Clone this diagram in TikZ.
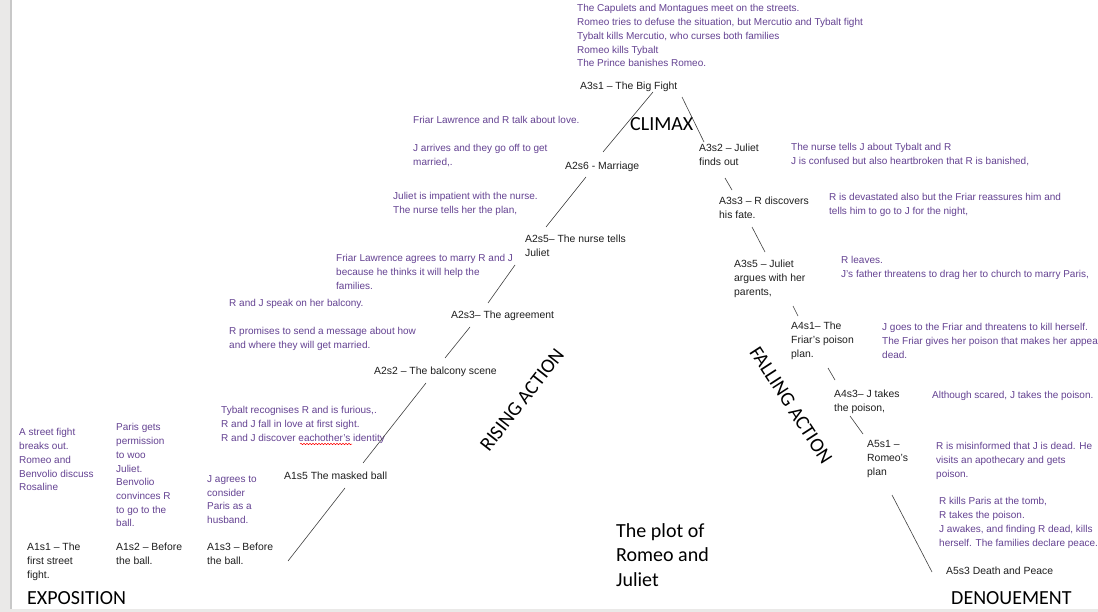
\documentclass[tikz,border=0pt]{standalone}
\usepackage{fontspec}
\usetikzlibrary{decorations.pathmorphing}
\setmainfont{Liberation Sans}
\newfontfamily\calfont{Carlito}
\definecolor{purp}{RGB}{100,66,146}
\definecolor{ink}{RGB}{30,30,30}
\definecolor{strip}{RGB}{234,233,232}
\definecolor{stripline}{RGB}{200,200,200}
\begin{document}
\begin{tikzpicture}[x=1pt,y=-1pt,
  note/.style={anchor=north west,inner sep=0pt,align=left,text=purp,font=\fontsize{10}{13.7}\selectfont},
  scene/.style={anchor=north west,inner sep=0pt,align=left,text=ink,font=\fontsize{10.4}{13.9}\selectfont},
  big/.style={inner sep=0pt,text=black,font=\calfont\fontsize{20}{24.5}\selectfont},
  link/.style={draw=ink!85,line width=0.6pt}]
\useasboundingbox (0,0) rectangle (1098,612);
\fill[white] (0,0) rectangle (1098,612);
\fill[strip] (0,0) rectangle (10,612);
\fill[strip] (0,609) rectangle (1098,612);
\draw[stripline,line width=1.5pt] (11,0) -- (11,609);

% scene labels
\node[scene] (a3s1) at (580,81.5) {A3s1 -- The Big Fight};
\node[scene] (a3s2) at (699,143.5) {A3s2 -- Juliet\\finds out};
\node[scene] (a2s6) at (565,161.5) {A2s6 - Marriage};
\node[scene] (a3s3) at (719,196.5) {A3s3 -- R discovers\\his fate.};
\node[scene] (a2s5) at (525,234.5) {A2s5-- The nurse tells\\Juliet};
\node[scene] (a3s5) at (734,259.5) {A3s5 -- Juliet\\argues with her\\parents,};
\node[scene] (a2s3) at (451,310.5) {A2s3-- The agreement};
\node[scene] (a4s1) at (791,321.5) {A4s1-- The\\Friar's poison\\plan.};
\node[scene] (a2s2) at (374,366.5) {A2s2 -- The balcony scene};
\node[scene] (a4s3) at (834,389.5) {A4s3-- J takes\\the poison,};
\node[scene] (a5s1) at (867,440.5) {A5s1 --\\Romeo's\\plan};
\node[scene] (a1s5) at (284,471.5) {A1s5 The masked ball};
\node[scene] (a1s1) at (27,542.5) {A1s1 -- The\\first street\\fight.};
\node[scene] (a1s2) at (116,542.5) {A1s2 -- Before\\the ball.};
\node[scene] (a1s3) at (207,542.5) {A1s3 -- Before\\the ball.};
\node[scene] (a5s3) at (946,566.5) {A5s3 Death and Peace};

% notes
\node[note] (ntop) at (577,4.5) {The Capulets and Montagues meet on the streets.\\Romeo tries to defuse the situation, but Mercutio and Tybalt fight\\Tybalt kills Mercutio, who curses both families\\Romeo kills Tybalt\\The Prince banishes Romeo.};
\node[note] (nfr1) at (413,116.5) {Friar Lawrence and R talk about love.};
\node[note] (nfr2) at (413,144.5) {J arrives and they go off to get\\married,.};
\node[note] (nnurse) at (791,143.5) {The nurse tells J about Tybalt and R\\J is confused but also heartbroken that R is banished,};
\node[note] (njul) at (393,192.5) {Juliet is impatient with the nurse.\\The nurse tells her the plan,};
\node[note] (ndev) at (829,193.5) {R is devastated also but the Friar reassures him and\\tells him to go to J for the night,};
\node[note] (nagree) at (336,254.5) {Friar Lawrence agrees to marry R and J\\because he thinks it will help the\\families.};
\node[note] (nleave) at (841,256.5) {R leaves.\\J's father threatens to drag her to church to marry Paris,};
\node[note] (nbalc) at (229,299.5) {R and J speak on her balcony.};
\node[note] (njgoes) at (882,323.5) {J goes to the Friar and threatens to kill herself.\\The Friar gives her poison that makes her appea\\dead.};
\node[note] (nprom) at (229,327.5) {R promises to send a message about how\\and where they will get married.};
\node[note] (nscared) at (932,391.5) {Although scared, J takes the poison.};
\node[note] (ntyb) at (221,406.5) {Tybalt recognises R and is furious,.\\R and J fall in love at first sight.\\R and J discover eachother's identity};
\node[note] (nstreet) at (19,428.5) {A street fight\\breaks out.\\Romeo and\\Benvolio discuss\\Rosaline};
\node[note] (nparis) at (116,423.5) {Paris gets\\permission\\to woo\\Juliet.\\Benvolio\\convinces R\\to go to the\\ball.};
\node[note] (nmis) at (936,442.5) {R is misinformed that J is dead. He\\visits an apothecary and gets\\poison.};
\node[note] (njag) at (207,475.5) {J agrees to\\consider\\Paris as a\\husband.};
\node[note] (nkills) at (939,497.5) {R kills Paris at the tomb,\\R takes the poison.\\J awakes, and finding R dead, kills\\herself. The families declare peace.};

% spell-check squiggle under "eachother's"
\draw[red,line width=0.5pt,decorate,decoration={snake,segment length=3pt,amplitude=0.7pt}] (300,444) -- (352,444);

% big labels
\node[big,anchor=west] (climax) at (630,124) {CLIMAX};
\node[big,anchor=west] (expo) at (27,598) {EXPOSITION};
\node[big,anchor=west] (denou) at (951,598) {DENOUEMENT};
\node[big,anchor=north west,align=left] (plot) at (616,523) {The plot of\\Romeo and\\Juliet};
\node[big,rotate=52] (rising) at (522,400) {RISING ACTION};
\node[big,rotate=-57] (falling) at (791,405) {FALLING ACTION};

% connector ends
\coordinate (c1a) at (288,561); \coordinate (c1b) at (345,488);
\coordinate (c2a) at (363,463); \coordinate (c2b) at (426,383);
\coordinate (c3a) at (445,358); \coordinate (c3b) at (470,327);
\coordinate (c4a) at (488,303); \coordinate (c4b) at (515,265);
\coordinate (c5a) at (546,227); \coordinate (c5b) at (586,177);
\coordinate (c6a) at (603,152); \coordinate (c6b) at (653,92);
\coordinate (c7a) at (682,97);  \coordinate (c7b) at (704,142);
\coordinate (c8a) at (725,178); \coordinate (c8b) at (732,190);
\coordinate (c9a) at (752,227); \coordinate (c9b) at (765,252);
\coordinate (c10a) at (793,306); \coordinate (c10b) at (798,316);
\coordinate (c11a) at (828,368); \coordinate (c11b) at (835,380);
\coordinate (c12a) at (850,416); \coordinate (c12b) at (863,434);
\coordinate (c13a) at (892,495); \coordinate (c13b) at (932,572);
\foreach \i in {1,...,13} {\draw[link] (c\i a) -- (c\i b);}
\end{tikzpicture}
\end{document}
